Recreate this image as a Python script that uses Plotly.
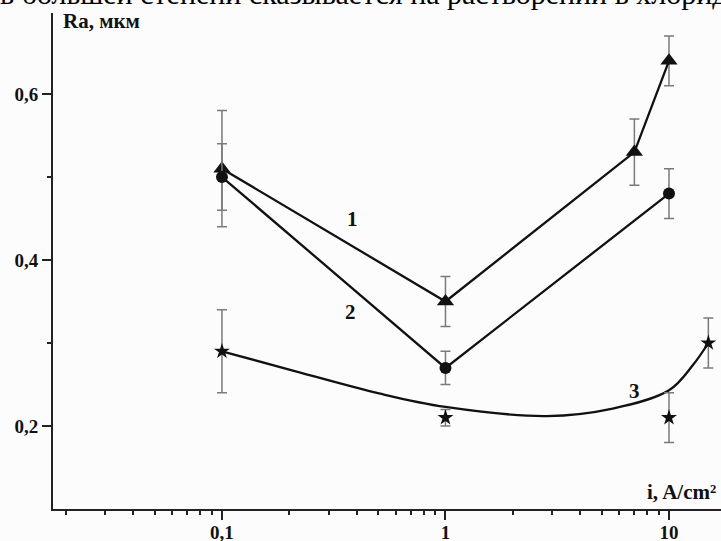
import plotly.graph_objects as go

# ---- data ----
x1 = [0.1, 1, 7, 10]
y1 = [0.51, 0.35, 0.53, 0.64]
e1 = [0.07, 0.03, 0.04, 0.03]

x2 = [0.1, 1, 10]
y2 = [0.50, 0.27, 0.48]
e2 = [0.04, 0.02, 0.03]

x3 = [0.1, 1, 10, 15]
y3 = [0.29, 0.21, 0.21, 0.30]
e3 = [0.05, 0.01, 0.03, 0.03]

# fitted trend curve for series 3
curve3_x = [0.1, 0.2, 0.51, 1, 2.84, 5.6, 10, 12.8, 15]
curve3_y = [0.29, 0.268, 0.239, 0.223, 0.212, 0.221, 0.243, 0.2735, 0.30]

x_tick_vals = [0.1, 1, 10]
x_tick_text = ["0,1", "1", "10"]
x_minor_vals = [0.02, 0.03, 0.04, 0.05, 0.06, 0.07, 0.08, 0.09,
                0.2, 0.3, 0.4, 0.5, 0.6, 0.7, 0.8, 0.9,
                2, 3, 4, 5, 6, 7, 8, 9]
y_tick_vals = [0.2, 0.4, 0.6]
y_tick_text = ["0,2", "0,4", "0,6"]
y_minor_vals = [0.3, 0.5]

series_labels = ["1", "2", "3"]
top_text = "в большей степени сказывается на растворении в хлоридных"

# ---- figure ----
W, H = 721, 541
ML, MR, MT, MB = 53, 0, 13, 32
BG = "#fbfcfb"
INK = "#111111"
ERR = "#7a7a7a"
SERIF = "Liberation Serif, Times New Roman, serif"

fig = go.Figure()

fig.add_trace(go.Scatter(
    x=curve3_x, y=curve3_y, mode="lines",
    line=dict(color=INK, width=2.3, shape="spline", smoothing=1.0),
    hoverinfo="skip", showlegend=False))

fig.add_trace(go.Scatter(
    x=x1, y=y1, mode="lines+markers",
    line=dict(color=INK, width=2.3),
    marker=dict(symbol="triangle-up", size=15, color=INK),
    error_y=dict(type="data", array=e1, color=ERR, thickness=1.5, width=5),
    showlegend=False))

fig.add_trace(go.Scatter(
    x=x2, y=y2, mode="lines+markers",
    line=dict(color=INK, width=2.3),
    marker=dict(symbol="circle", size=12, color=INK),
    error_y=dict(type="data", array=e2, color=ERR, thickness=1.5, width=5),
    showlegend=False))

fig.add_trace(go.Scatter(
    x=x3, y=y3, mode="markers",
    marker=dict(symbol="star", size=12, color=INK),
    error_y=dict(type="data", array=e3, color=ERR, thickness=1.5, width=5),
    showlegend=False))

pw = W - ML - MR
ph = H - MT - MB

def px(xp):
    return (xp - ML) / pw

def py(yp):
    return (H - MB - yp) / ph

ann = []
ann.append(dict(text=top_text, xref="paper", yref="paper",
                x=px(-2), y=py(-6.5), xanchor="left", yanchor="middle",
                showarrow=False,
                font=dict(family=SERIF, size=30, color="#000000")))
ann.append(dict(text="Ra, мкм", xref="paper", yref="paper",
                x=px(61), y=py(21), xanchor="left", yanchor="middle",
                showarrow=False,
                font=dict(family=SERIF, size=21, color=INK, weight="bold")))
ann.append(dict(text="i, A/cm²", xref="paper", yref="paper",
                x=px(718), y=py(492), xanchor="right", yanchor="middle",
                showarrow=False,
                font=dict(family=SERIF, size=21, color=INK, weight="bold")))
label_pos = [(352, 219), (350, 312), (634, 391)]
for lab, (lx, ly) in zip(series_labels, label_pos):
    ann.append(dict(text=lab, xref="paper", yref="paper",
                    x=px(lx), y=py(ly), xanchor="center", yanchor="middle",
                    showarrow=False,
                    font=dict(family=SERIF, size=21, color=INK, weight="bold")))

fig.update_layout(
    width=W, height=H,
    margin=dict(l=ML, r=MR, t=MT, b=MB, pad=0),
    paper_bgcolor=BG, plot_bgcolor=BG,
    annotations=ann,
    xaxis=dict(
        type="log", range=[-1.756, 1.2327],
        showgrid=False, zeroline=False,
        showline=True, linecolor="#222222", linewidth=2,
        ticks="outside", ticklen=9, tickwidth=2, tickcolor="#222222",
        tickmode="array", tickvals=x_tick_vals, ticktext=x_tick_text,
        tickfont=dict(family=SERIF, size=19, color=INK, weight="bold"),
        ticklabelstandoff=-4,
        minor=dict(tickmode="array", tickvals=x_minor_vals, ticks="outside",
                   ticklen=4, tickwidth=2, tickcolor="#222222", showgrid=False),
        automargin=False,
    ),
    yaxis=dict(
        range=[0.1, 0.6976],
        showgrid=False, zeroline=False,
        showline=True, linecolor="#222222", linewidth=2,
        ticks="outside", ticklen=9, tickwidth=2, tickcolor="#222222",
        tickmode="array", tickvals=y_tick_vals, ticktext=y_tick_text,
        tickfont=dict(family=SERIF, size=19, color=INK, weight="bold"),
        minor=dict(tickmode="array", tickvals=y_minor_vals, ticks="outside",
                   ticklen=4, tickwidth=2, tickcolor="#222222", showgrid=False),
        automargin=False,
    ),
)

fig.write_html(
    "out.html",
    config={"displayModeBar": False},
    post_script="document.body.style.margin='0';document.body.style.padding='0';document.body.style.overflow='hidden';",
)
